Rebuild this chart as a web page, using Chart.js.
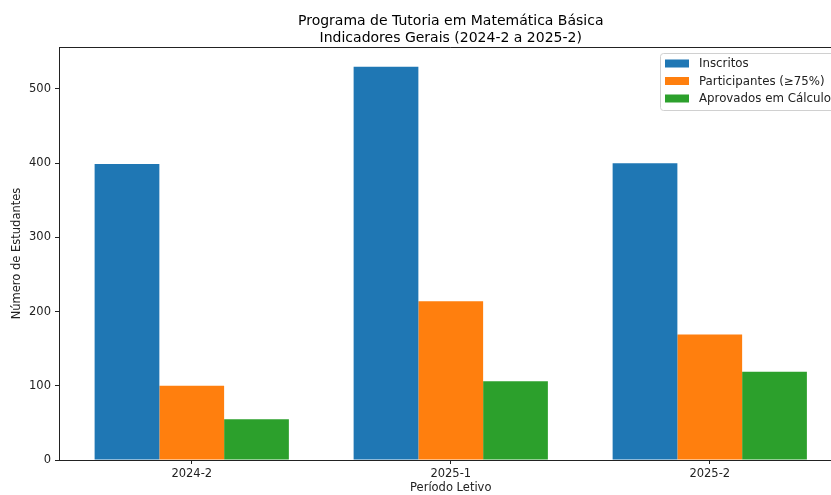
<!DOCTYPE html>
<html>
<head>
<meta charset="utf-8">
<script src="https://cdn.jsdelivr.net/npm/chart.js@4"></script>
<style>
  html, body { margin: 0; padding: 0; background: #fff; overflow: hidden; }
  canvas { display: block; }
</style>
</head>
<body>
<canvas id="chart" width="845" height="495"></canvas>
<script>
// data
const periods = ["2024-2", "2025-1", "2025-2"];
const inscritos = [399, 530, 400];
const participantes = [100, 214, 169];
const aprovados = [55, 106, 119];

const seriesNames = ["Inscritos", "Participantes (≥75%)", "Aprovados em Cálculo"];
const colors = ["#1f77b4", "#ff7f0e", "#2ca02c"];
const titleLines = ["Programa de Tutoria em Matemática Básica", "Indicadores Gerais (2024-2 a 2025-2)"];

const FONT = "'DejaVu Sans', sans-serif";
const INK = "#222";

const toPoints = arr => arr.map((v, i) => ({ x: i, y: v }));

// title, frame and legend, drawn like matplotlib does
const decor = {
  id: "decor",
  afterDraw(chart) {
    const { ctx, chartArea: a } = chart;
    ctx.save();

    // top spine
    ctx.strokeStyle = INK;
    ctx.lineWidth = 1;
    ctx.beginPath();
    ctx.moveTo(a.left, Math.round(a.top) + 0.5);
    ctx.lineTo(a.right, Math.round(a.top) + 0.5);
    ctx.stroke();

    // title
    ctx.fillStyle = "#000";
    ctx.font = "14px " + FONT;
    ctx.textAlign = "center";
    ctx.textBaseline = "alphabetic";
    const cx = (a.left + a.right) / 2;
    ctx.fillText(titleLines[0], cx, 25);
    ctx.fillText(titleLines[1], cx, 41.5);

    // legend
    const bx = 660.5, by = 53.5, bw = 180, bh = 57, r = 3;
    ctx.fillStyle = "rgba(255,255,255,0.8)";
    ctx.strokeStyle = "#d0d0d0";
    ctx.beginPath();
    ctx.roundRect(bx, by, bw, bh, r);
    ctx.fill();
    ctx.stroke();

    ctx.font = "11.8px " + FONT;
    ctx.textAlign = "left";
    ctx.textBaseline = "middle";
    chart.data.datasets.forEach((ds, i) => {
      const yc = 63.5 + i * 17.5;
      ctx.fillStyle = ds.backgroundColor;
      ctx.fillRect(665, yc - 4, 24, 8);
      ctx.fillStyle = INK;
      ctx.fillText(ds.label, 699, yc + 0.5);
    });

    ctx.restore();
  }
};

new Chart(document.getElementById("chart"), {
  type: "bar",
  data: {
    datasets: [
      { label: seriesNames[0], data: toPoints(inscritos), backgroundColor: colors[0] },
      { label: seriesNames[1], data: toPoints(participantes), backgroundColor: colors[1] },
      { label: seriesNames[2], data: toPoints(aprovados), backgroundColor: colors[2] }
    ]
  },
  options: {
    responsive: false,
    animation: false,
    devicePixelRatio: 1,
    layout: { padding: { top: 47, right: 2.5, left: 0, bottom: 0 } },
    datasets: { bar: { categoryPercentage: 0.75, barPercentage: 1.0, borderWidth: 0 } },
    plugins: {
      legend: { display: false },
      tooltip: { enabled: false },
      title: { display: false }
    },
    scales: {
      x: {
        type: "linear",
        min: -0.5125,
        max: 2.5125,
        offset: false,
        afterBuildTicks: s => { s.ticks = periods.map((p, i) => ({ value: i })); },
        afterFit: s => { s.height = 35; },
        ticks: {
          callback: v => periods[v],
          autoSkip: false,
          maxRotation: 0,
          padding: 3,
          color: INK,
          font: { family: FONT, size: 11.5 }
        },
        grid: { display: true, offset: false, drawOnChartArea: false, drawTicks: true, tickLength: 4, color: INK },
        border: { display: true, color: INK, width: 1 },
        title: {
          display: true,
          text: "Período Letivo",
          color: INK,
          padding: { top: 0, bottom: 0 },
          font: { family: FONT, size: 11.5 }
        }
      },
      y: {
        min: 0,
        max: 556.5,
        afterFit: s => { s.width = 59; },
        ticks: {
          stepSize: 100,
          includeBounds: false,
          padding: 4,
          color: INK,
          font: { family: FONT, size: 11.5 }
        },
        grid: { display: true, drawOnChartArea: false, drawTicks: true, tickLength: 4, color: INK },
        border: { display: true, color: INK, width: 1 },
        title: {
          display: true,
          text: "Número de Estudantes",
          color: INK,
          padding: { top: 10, bottom: 0 },
          font: { family: FONT, size: 11.5 }
        }
      }
    }
  },
  plugins: [decor]
});
</script>
</body>
</html>
